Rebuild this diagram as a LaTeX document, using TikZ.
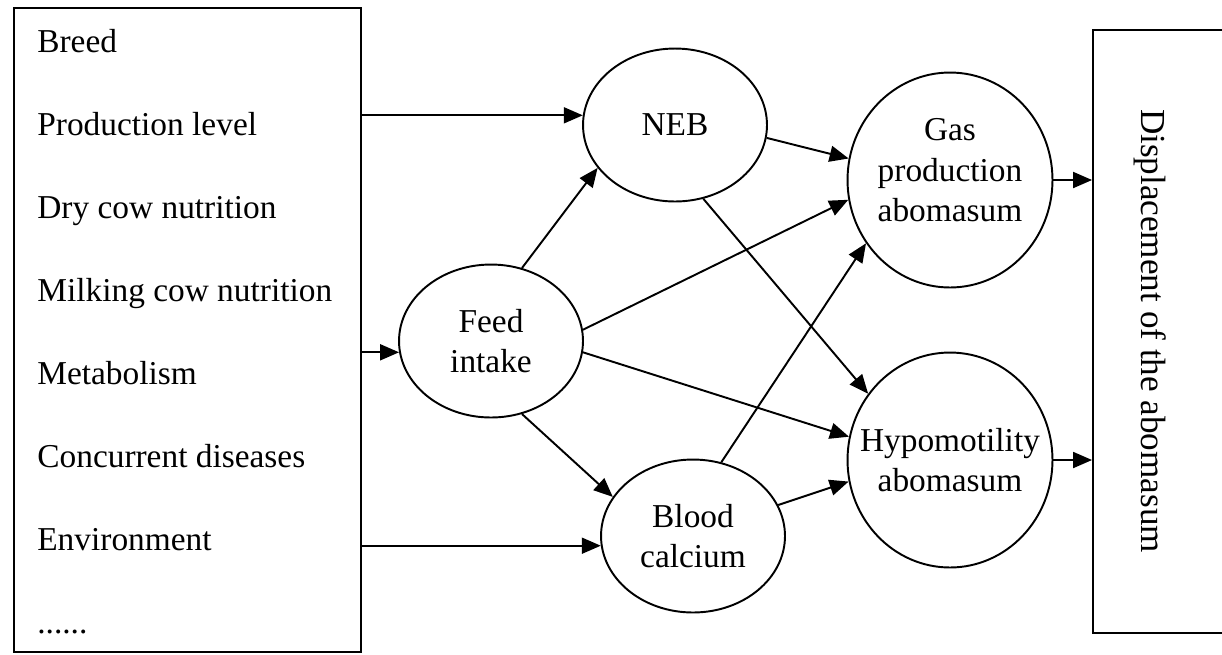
\documentclass[tikz,border=0pt]{standalone}
\usepackage{fontspec}
\setmainfont{Liberation Serif}
\usetikzlibrary{arrows.meta,shapes.geometric}

\begin{document}
\begin{tikzpicture}[x=0.02cm, y=-0.02cm, > = {Triangle[length=0.38cm, width=0.32cm]},
    factor/.style = {draw, ellipse, line width=1.1pt, inner xsep=-1cm, inner ysep=-0.6cm, align=center, font=\fontsize{19}{23}\selectfont},
    small/.style = {factor, minimum width=3.68cm, minimum height=3.06cm},
    large/.style = {factor, minimum width=4.1cm, minimum height=4.3cm},
    link/.style = {line width=1.1pt, ->},
    item/.style = {anchor=base west, inner sep=0pt, font=\fontsize{19}{23}\selectfont}]

    \useasboundingbox (0,0) rectangle (1222,654);
    \clip (0,0) rectangle (1222,654);

    % boxes
    \node[draw, line width=1.1pt, minimum width=6.94cm, minimum height=12.88cm] (causes) at (187.5,330) {};
    \node[draw, line width=1.1pt, minimum width=3.4cm, minimum height=12.06cm] (da) at (1178,331.5) {};
    \node[rotate=-90, font=\fontsize{20}{24}\selectfont] (daText) at (1150,331) {Displacement of the abomasum};

    % risk factors
    \foreach \txt [count=\i from 0] in {Breed, Production level, Dry cow nutrition, Milking cow nutrition, Metabolism, Concurrent diseases, Environment}
        \node[item] (c\i) at (37, 52+83*\i) {\txt};
    \node[item] (c7) at (37, 633) {......};

    % intermediate factors
    \node[small] (neb)   at (675,125) {NEB};
    \node[small] (feed)  at (491,341) {Feed\\intake};
    \node[small] (blood) at (693,536) {Blood\\calcium};
    \node[large, text depth=0.4cm] (gas) at (950,180) {Gas\\production\\abomasum};
    \node[large] (hypo)  at (950,460) {Hypomotility\\abomasum};

    % arrows
    \draw[link] (causes.east |- neb.174) -- (neb.174);
    \draw[link] (causes.east |- feed.187) -- (feed.187);
    \draw[link] (causes.east |- blood.186) -- (blood.186);
    \draw[link] (feed.67) -- (neb.209);
    \draw[link] (feed.293) -- (blood.154);
    \draw[link] (feed.7) -- (gas.191);
    \draw[link] (feed.353) -- (hypo.167);
    \draw[link] (neb.352) -- (gas.168);
    \draw[link] (neb.291) -- (hypo.141);
    \draw[link] (blood.69) -- (gas.217);
    \draw[link] (blood.20) -- (hypo.192);
    \draw[link] (gas.east) -- (da.west |- gas.east);
    \draw[link] (hypo.east) -- (da.west |- hypo.east);

\end{tikzpicture}
\end{document}
